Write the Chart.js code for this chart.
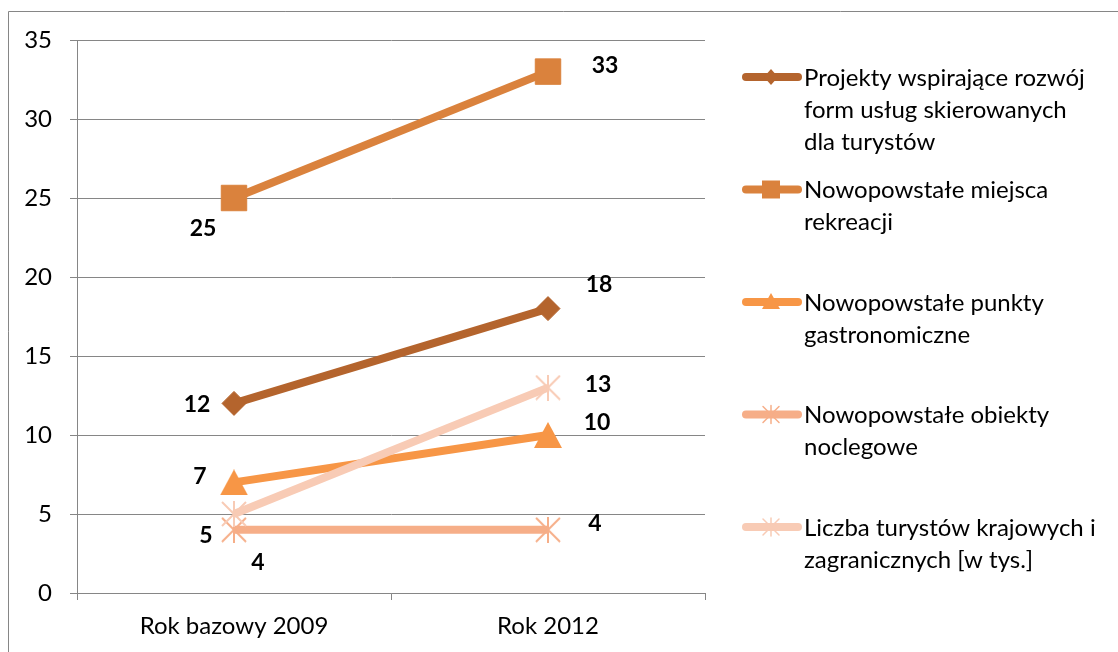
<!DOCTYPE html>
<html>
<head>
<meta charset="utf-8">
<script src="https://cdn.jsdelivr.net/npm/chart.js"></script>
<style>
  html, body { margin: 0; padding: 0; background: #fff; }
  #wrap { width: 1118px; height: 652px; }
</style>
</head>
<body>
<div id="wrap"><canvas id="chart" width="1118" height="652"></canvas></div>
<script>
const categories = ['Rok bazowy 2009', 'Rok 2012'];
const seriesNames = [
  ['Projekty wspirające rozwój', 'form usług skierowanych', 'dla turystów'],
  ['Nowopowstałe miejsca', 'rekreacji'],
  ['Nowopowstałe punkty', 'gastronomiczne'],
  ['Nowopowstałe obiekty', 'noclegowe'],
  ['Liczba turystów krajowych i', 'zagranicznych [w tys.]'],
];
const projekty = [12, 18];
const miejscaRekreacji = [25, 33];
const punktyGastro = [7, 10];
const obiektyNoclegowe = [4, 4];
const liczbaTurystow = [5, 13];
const yMin = 0, yMax = 35, yStep = 5;

const colors = ['#B4642D', '#DA823D', '#F79646', '#F6AE88', '#F8CBB5'];
const markers = ['diamond', 'square', 'triangle', 'star', 'star'];
// where each value label sits, relative to its point
const labelOffsets = [
  [[-37, 1], [51, -24]],
  [[-31, 31], [57, -6]],
  [[-34, -6], [49, -12]],
  [[24, 33], [47, -6]],
  [[-28, 22], [50, -3]],
];

const FONT = 'Lato, "Open Sans", sans-serif';
const TEXT_SIZE = 24;
const gridColor = '#868686';

const makeStar = (color) => {
  const c = document.createElement('canvas');
  c.width = 26; c.height = 26;
  const g = c.getContext('2d');
  g.strokeStyle = color;
  g.lineWidth = 2;
  g.beginPath();
  g.moveTo(1, 1); g.lineTo(25, 25);
  g.moveTo(25, 1); g.lineTo(1, 25);
  g.moveTo(13, 0); g.lineTo(13, 26);
  g.stroke();
  return c;
};

const makeTriangle = (color) => {
  const c = document.createElement('canvas');
  c.width = 28; c.height = 26;
  const g = c.getContext('2d');
  g.fillStyle = color;
  g.beginPath();
  g.moveTo(14, 0); g.lineTo(28, 26); g.lineTo(0, 26);
  g.closePath();
  g.fill();
  return c;
};

const pointStyleFor = (i) => {
  if (markers[i] === 'diamond') return { pointStyle: 'rectRot', pointRadius: 12 };
  if (markers[i] === 'square') return { pointStyle: 'rect', pointRadius: 18 };
  if (markers[i] === 'triangle') return { pointStyle: makeTriangle(colors[i]), pointRadius: 14 };
  return { pointStyle: makeStar(colors[i]), pointRadius: 13 };
};

const allSeries = [projekty, miejscaRekreacji, punktyGastro, obiektyNoclegowe, liczbaTurystow];

const datasets = allSeries.map((values, i) => Object.assign({
  label: seriesNames[i].join(' '),
  data: values,
  borderColor: colors[i],
  backgroundColor: colors[i],
  pointBackgroundColor: colors[i],
  pointBorderColor: colors[i],
  pointBorderWidth: 1,
  borderWidth: 8,
  tension: 0,
  order: allSeries.length - i,
}, pointStyleFor(i)));

const drawLegendMarker = (ctx, kind, color, x, y) => {
  ctx.fillStyle = color;
  ctx.strokeStyle = color;
  ctx.beginPath();
  if (kind === 'diamond') {
    ctx.moveTo(x, y - 8); ctx.lineTo(x + 7, y); ctx.lineTo(x, y + 8); ctx.lineTo(x - 7, y);
    ctx.closePath(); ctx.fill();
  } else if (kind === 'square') {
    ctx.rect(x - 9, y - 9, 18, 18); ctx.fill();
  } else if (kind === 'triangle') {
    ctx.moveTo(x, y - 9); ctx.lineTo(x + 9, y + 7); ctx.lineTo(x - 9, y + 7);
    ctx.closePath(); ctx.fill();
  } else {
    ctx.lineWidth = 1.5;
    ctx.moveTo(x - 8, y - 8); ctx.lineTo(x + 8, y + 8);
    ctx.moveTo(x + 8, y - 8); ctx.lineTo(x - 8, y + 8);
    ctx.moveTo(x, y - 9); ctx.lineTo(x, y + 9);
    ctx.stroke();
  }
};

const framePlugin = {
  id: 'frame',
  beforeDraw(chart) {
    const ctx = chart.ctx;
    ctx.save();
    ctx.fillStyle = '#fff';
    ctx.fillRect(0, 0, chart.width, chart.height);
    ctx.strokeStyle = gridColor;
    ctx.lineWidth = 1;
    ctx.beginPath();
    ctx.moveTo(8.5, chart.height);
    ctx.lineTo(8.5, 11.5);
    ctx.lineTo(chart.width, 11.5);
    ctx.stroke();
    ctx.restore();
  },
};

const dataLabels = {
  id: 'dataLabels',
  afterDatasetsDraw(chart) {
    const ctx = chart.ctx;
    ctx.save();
    ctx.font = 'bold 23px ' + FONT;
    ctx.fillStyle = '#000';
    ctx.textAlign = 'center';
    ctx.textBaseline = 'middle';
    chart.data.datasets.forEach((ds, i) => {
      chart.getDatasetMeta(i).data.forEach((pt, j) => {
        const off = labelOffsets[i][j];
        ctx.fillText(String(ds.data[j]), pt.x + off[0], pt.y + off[1]);
      });
    });
    ctx.restore();
  },
};

const sideLegend = {
  id: 'sideLegend',
  afterDraw(chart) {
    const ctx = chart.ctx;
    ctx.save();
    ctx.font = TEXT_SIZE + 'px ' + FONT;
    ctx.textBaseline = 'middle';
    ctx.textAlign = 'left';
    seriesNames.forEach((lines, i) => {
      const y = 77 + i * 112.5;
      ctx.strokeStyle = colors[i];
      ctx.lineWidth = 8;
      ctx.lineCap = 'round';
      ctx.beginPath();
      ctx.moveTo(746, y);
      ctx.lineTo(798, y);
      ctx.stroke();
      drawLegendMarker(ctx, markers[i], colors[i], 771, y);
      ctx.fillStyle = '#000';
      lines.forEach((line, k) => ctx.fillText(line, 804, y + 1 + k * 32));
    });
    ctx.restore();
  },
};

document.addEventListener('DOMContentLoaded', () => {
  new Chart(document.getElementById('chart').getContext('2d'), {
    type: 'line',
    data: { labels: categories, datasets },
    options: {
      responsive: false,
      animation: false,
      events: [],
      layout: { padding: { left: 0, top: 40, right: 413, bottom: 0 } },
      plugins: {
        legend: { display: false },
        tooltip: { enabled: false },
      },
      scales: {
        x: {
          offset: true,
          afterFit: (scale) => { scale.height = 59; },
          grid: { offset: true, drawOnChartArea: false, drawTicks: true, tickLength: 7, color: gridColor },
          border: { color: gridColor, width: 1 },
          ticks: { color: '#000', padding: 12, font: { family: FONT, size: TEXT_SIZE } },
        },
        y: {
          min: yMin,
          max: yMax,
          afterFit: (scale) => { scale.width = 77; },
          ticks: { stepSize: yStep, color: '#000', padding: 18, font: { family: FONT, size: TEXT_SIZE } },
          grid: { color: gridColor, tickLength: 7, lineWidth: 1 },
          border: { color: gridColor, width: 1 },
        },
      },
    },
    plugins: [framePlugin, dataLabels, sideLegend],
  });
});
</script>
</body>
</html>
